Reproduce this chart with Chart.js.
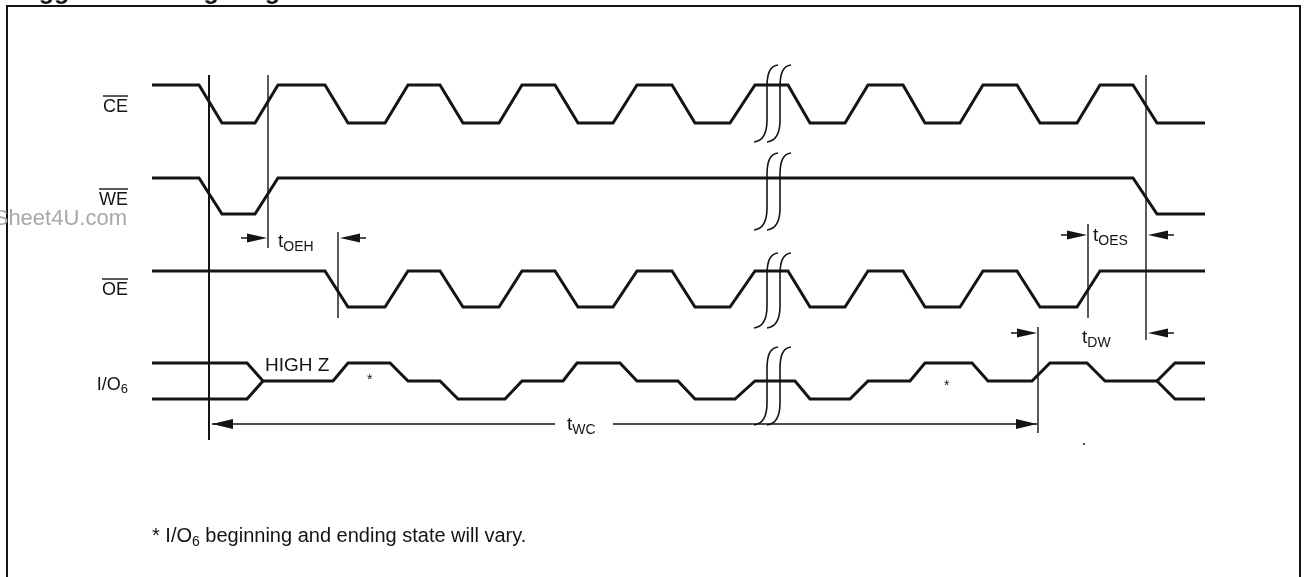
<!DOCTYPE html>
<html>
<head>
<meta charset="utf-8">
<script src="https://cdn.jsdelivr.net/npm/chart.js@4.4.1/dist/chart.umd.min.js"></script>
<style>
  html, body { margin: 0; padding: 0; background: #fff; }
  canvas { display: block; }
</style>
</head>
<body>
<canvas id="timing" width="1307" height="577"></canvas>
<script>
// signal edges: time of each corner and logic level (1 = high, 0 = low, 0.5 = high Z)
const ceTimes = [152, 199, 222, 255, 278, 325, 348, 385, 408, 440, 463, 499, 522, 555, 578, 613, 637, 672, 695, 730, 755, 788, 810, 845, 868, 903, 925, 960, 983, 1017, 1040, 1077, 1100, 1133, 1157, 1205];
const ceLevels = [1, 1, 0, 0, 1, 1, 0, 0, 1, 1, 0, 0, 1, 1, 0, 0, 1, 1, 0, 0, 1, 1, 0, 0, 1, 1, 0, 0, 1, 1, 0, 0, 1, 1, 0, 0];

const weTimes = [152, 199, 222, 255, 278, 1133, 1157, 1205];
const weLevels = [1, 1, 0, 0, 1, 1, 0, 0];

const oeTimes = [152, 325, 348, 385, 408, 440, 463, 499, 522, 555, 578, 613, 637, 672, 695, 730, 755, 788, 810, 845, 868, 903, 925, 960, 983, 1017, 1040, 1077, 1100, 1205];
const oeLevels = [1, 1, 0, 0, 1, 1, 0, 0, 1, 1, 0, 0, 1, 1, 0, 0, 1, 1, 0, 0, 1, 1, 0, 0, 1, 1, 0, 0, 1, 1];

const ioStartTimes = [152, 247, 263];
const ioStartHigh = [1, 1, 0.5];
const ioStartLow = [0, 0, 0.5];
const ioTimes = [263, 333, 348, 390, 408, 440, 458, 505, 522, 563, 577, 620, 637, 678, 695, 735, 755, 795, 810, 850, 868, 910, 925, 972, 988, 1032, 1050, 1087, 1105, 1157];
const ioLevels = [0.5, 0.5, 1, 1, 0.5, 0.5, 0, 0, 0.5, 0.5, 1, 1, 0.5, 0.5, 0, 0, 0.5, 0.5, 0, 0, 0.5, 0.5, 1, 1, 0.5, 0.5, 1, 1, 0.5, 0.5];
const ioEndTimes = [1157, 1175, 1205];
const ioEndHigh = [0.5, 1, 1];
const ioEndLow = [0.5, 0, 0];

const signalNames = ['CE', 'WE', 'OE', 'I/O'];
const breakTimes = [767, 780];

// reference lines and timing parameters
const cursorTimes = [209, 268, 338, 1088, 1146, 1038];
const paramNames = ['OEH', 'OES', 'DW', 'WC'];
const paramFrom = [268, 1088, 1038, 209];
const paramTo = [338, 1146, 1146, 1038];

// lane geometry (y units of the chart)
const lanes = [
  { top: 85, bottom: 123, brkTop: 65, brkBottom: 142, labelY: 112 },
  { top: 178, bottom: 214, brkTop: 153, brkBottom: 230, labelY: 205 },
  { top: 271, bottom: 307, brkTop: 253, brkBottom: 328, labelY: 295 },
  { top: 363, bottom: 399, brkTop: 347, brkBottom: 425, labelY: 390 }
];

function lanePoints(lane, times, levels) {
  const l = lanes[lane];
  return times.map((t, i) => ({ x: t, y: l.bottom - levels[i] * (l.bottom - l.top) }));
}

function wave(lane, times, levels) {
  return {
    data: lanePoints(lane, times, levels),
    borderColor: '#141414',
    borderWidth: 3,
    pointRadius: 0,
    tension: 0,
    fill: false,
    borderJoinStyle: 'miter'
  };
}

const ink = '#141414';
const face = '"Liberation Sans", Arial, sans-serif';

function arrowHead(ctx, tipX, y, dir, len, half) {
  ctx.beginPath();
  ctx.moveTo(tipX, y);
  ctx.lineTo(tipX - dir * len, y - half);
  ctx.lineTo(tipX - dir * len, y + half);
  ctx.closePath();
  ctx.fill();
}

function subLabel(ctx, x, y, main, sub, mainSize, subSize, drop) {
  ctx.font = mainSize + 'px ' + face;
  ctx.fillText(main, x, y);
  const w = ctx.measureText(main).width;
  ctx.font = subSize + 'px ' + face;
  ctx.fillText(sub, x + w, y + drop);
}

const diagramPlugin = {
  id: 'diagram',
  afterDatasetsDraw(chart) {
    const ctx = chart.ctx;
    const xs = chart.scales.x, ys = chart.scales.y;
    const X = v => xs.getPixelForValue(v);
    const Y = v => ys.getPixelForValue(v);
    ctx.save();
    ctx.strokeStyle = ink;
    ctx.fillStyle = ink;
    ctx.textBaseline = 'alphabetic';

    // frame
    ctx.lineWidth = 2;
    ctx.beginPath();
    ctx.moveTo(X(7), Y(580));
    ctx.lineTo(X(7), Y(6));
    ctx.lineTo(X(1300), Y(6));
    ctx.lineTo(X(1300), Y(580));
    ctx.stroke();

    // cut-off title
    ctx.font = 'bold 25px ' + face;
    ctx.textAlign = 'left';
    ctx.fillText('Toggle Bit Timing Diagram', X(10), Y(-1));

    // break marks
    ctx.lineWidth = 1.6;
    lanes.forEach(l => {
      breakTimes.forEach(bt => {
        const x = X(bt), yt = Y(l.brkTop), yb = Y(l.brkBottom);
        ctx.beginPath();
        ctx.moveTo(x - 13, yb);
        ctx.bezierCurveTo(x - 4, yb - 1, x, yb - 8, x, yb - 22);
        ctx.lineTo(x, yt + 22);
        ctx.bezierCurveTo(x, yt + 8, x + 3, yt + 1, x + 11, yt);
        ctx.stroke();
      });
    });

    // cursors
    const cursorSpan = [[75, 440], [75, 248], [232, 318], [224, 318], [75, 340], [327, 433]];
    cursorTimes.forEach((t, i) => {
      ctx.lineWidth = i === 0 ? 2 : 1.4;
      ctx.beginPath();
      ctx.moveTo(X(t), Y(cursorSpan[i][0]));
      ctx.lineTo(X(t), Y(cursorSpan[i][1]));
      ctx.stroke();
    });

    // outside dimension arrows for OEH, OES, DW
    const dimY = [238, 235, 333];
    ctx.lineWidth = 1.4;
    for (let i = 0; i < 3; i++) {
      const a = X(paramFrom[i]) - 1, b = X(paramTo[i]) + 2, y = Y(dimY[i]);
      ctx.beginPath();
      ctx.moveTo(a - 26, y); ctx.lineTo(a - 18, y);
      ctx.moveTo(b + 26, y); ctx.lineTo(b + 18, y);
      ctx.stroke();
      arrowHead(ctx, a, y, 1, 20, 4.5);
      arrowHead(ctx, b, y, -1, 20, 4.5);
    }

    // tWC arrow
    const wcY = Y(424);
    ctx.lineWidth = 1.4;
    ctx.beginPath();
    ctx.moveTo(X(paramFrom[3]) + 3, wcY); ctx.lineTo(X(555), wcY);
    ctx.moveTo(X(613), wcY); ctx.lineTo(X(paramTo[3]) - 1, wcY);
    ctx.stroke();
    arrowHead(ctx, X(paramFrom[3]) + 3, wcY, -1, 21, 5);
    arrowHead(ctx, X(paramTo[3]) - 1, wcY, 1, 21, 5);

    // parameter labels
    ctx.textAlign = 'left';
    subLabel(ctx, X(278), Y(247), 't', paramNames[0], 19, 14, 4);
    subLabel(ctx, X(1093), Y(241), 't', paramNames[1], 19, 14, 4);
    subLabel(ctx, X(1082), Y(343), 't', paramNames[2], 19, 14, 4);
    subLabel(ctx, X(567), Y(430), 't', paramNames[3], 19, 14, 4);

    // signal names
    ctx.textAlign = 'right';
    ctx.font = '18px ' + face;
    for (let i = 0; i < 3; i++) {
      const y = Y(lanes[i].labelY);
      ctx.fillText(signalNames[i], X(128), y);
      const w = ctx.measureText(signalNames[i]).width;
      ctx.lineWidth = 1.4;
      ctx.beginPath();
      ctx.moveTo(X(128) - w, y - 16);
      ctx.lineTo(X(128), y - 16);
      ctx.stroke();
    }
    ctx.textAlign = 'left';
    ctx.font = '18px ' + face;
    const ioW = ctx.measureText(signalNames[3]).width;
    ctx.font = 'bold 13px ' + face;
    const subW = ctx.measureText('6').width;
    subLabel(ctx, X(128) - ioW - subW, Y(lanes[3].labelY), signalNames[3], '6', 18, 13, 3);

    // annotations
    ctx.font = '19px ' + face;
    ctx.fillText('HIGH Z', X(265), Y(371));
    ctx.font = '14px ' + face;
    ctx.fillText('*', X(367), Y(384));
    ctx.fillText('*', X(944), Y(390));
    ctx.beginPath();
    ctx.arc(X(1084), Y(444), 1, 0, Math.PI * 2);
    ctx.fill();

    // footnote
    ctx.font = '20px ' + face;
    let fx = X(152);
    const fy = Y(542);
    ctx.fillText('* I/O', fx, fy);
    fx += ctx.measureText('* I/O').width;
    ctx.font = '14px ' + face;
    ctx.fillText('6', fx, fy + 4);
    fx += ctx.measureText('6').width;
    ctx.font = '20px ' + face;
    ctx.fillText(' beginning and ending state will vary.', fx, fy);

    // watermark
    ctx.fillStyle = '#a8a8a8';
    ctx.textAlign = 'right';
    ctx.font = '22px ' + face;
    ctx.fillText('Sheet4U.com', X(127), Y(225));

    ctx.restore();
  }
};

new Chart(document.getElementById('timing'), {
  type: 'line',
  data: {
    datasets: [
      wave(0, ceTimes, ceLevels),
      wave(1, weTimes, weLevels),
      wave(2, oeTimes, oeLevels),
      wave(3, ioStartTimes, ioStartHigh),
      wave(3, ioStartTimes, ioStartLow),
      wave(3, ioTimes, ioLevels),
      wave(3, ioEndTimes, ioEndHigh),
      wave(3, ioEndTimes, ioEndLow)
    ]
  },
  options: {
    responsive: false,
    animation: false,
    layout: { padding: 0 },
    plugins: { legend: { display: false }, tooltip: { enabled: false }, title: { display: false } },
    scales: {
      x: { type: 'linear', min: 0, max: 1307, display: false },
      y: { type: 'linear', min: 0, max: 577, reverse: true, display: false }
    }
  },
  plugins: [diagramPlugin]
});
</script>
</body>
</html>
